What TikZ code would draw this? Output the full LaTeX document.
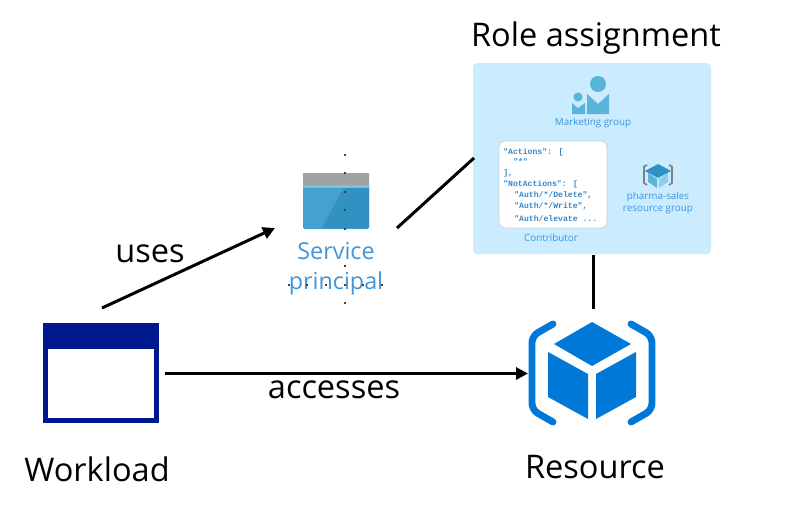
\documentclass[tikz,border=0pt]{standalone}
\usepackage{fontspec}
\setmainfont{Open Sans}
\newfontfamily\codefont{Liberation Mono}
\usetikzlibrary{arrows.meta}
\definecolor{panelblue}{HTML}{CBEBFF}
\definecolor{navy}{HTML}{00188F}
\definecolor{azure}{HTML}{0078D7}
\definecolor{softblue}{HTML}{3F96DC}
\definecolor{iconblue}{HTML}{59B4D9}
\definecolor{sptop}{HTML}{A0A1A2}
\definecolor{spbody}{HTML}{45A1D0}
\definecolor{spdark}{HTML}{3191C3}
\tikzset{
  x=0.75pt,y=-0.75pt,
  bigtext/.style={inner sep=0pt,font=\fontsize{24.4}{28}\selectfont,text=black},
  smalltext/.style={inner sep=0pt,font=\fontsize{7.4}{9}\selectfont,text=softblue,align=center},
  sptext/.style={inner sep=0pt,font=\fontsize{17.5}{22.5}\selectfont,text=softblue,align=center},
  codetext/.style={inner sep=0pt,anchor=west,font=\codefont\bfseries\fontsize{6.1}{7}\selectfont,text=softblue!90!black},
  conn/.style={draw=black,line width=2.25pt},
  arrowconn/.style={conn,-{Triangle[length=9pt,width=9pt]}},
  tick/.style={fill=black!75,minimum size=1.3pt,inner sep=0pt,draw=none},
  bracket/.style={draw=azure,line width=5.2pt,line cap=round,line join=round,rounded corners=5pt},
}
\begin{document}
\begin{tikzpicture}
\useasboundingbox (0,0) rectangle (794,514);
% workload
\node[draw=none,fill=navy,minimum width=87pt,minimum height=75pt,inner sep=0pt] (workload) at (101,373) {};
\node[fill=white,minimum width=79.5pt,minimum height=51.75pt,inner sep=0pt] (workloadpane) at (101,383.5) {};
\node[bigtext] (workloadlabel) at (97,469) {Workload};
% service principal
\fill[spbody,rounded corners=1pt] (303,173) rectangle (369,229);
\fill[spdark] (345,185) -- (369,185) -- (369,228) -- (322,228) -- cycle;
\fill[spbody!70!white] (303,185) rectangle (369,188);
\node[fill=sptop,minimum width=49.5pt,minimum height=9pt,inner sep=0pt] (sptitle) at (336,179) {};
\node[sptext] (splabel) at (336,269) {Service\\principal};
\foreach \n/\xx/\yy in {a/345/155,b/345/173,c/345/192,d/345/210,e/345/229,f/345/266,g/345/285,h/345/303,i/289/285,j/307/285,k/326/285,l/363/285,m/382/285}
  \node[tick] (tick\n) at (\xx,\yy) {};
% role assignment panel
\node[bigtext] (rolelabel) at (596,38) {Role assignment};
\node[fill=panelblue,rounded corners=3pt,minimum width=178.5pt,minimum height=143.25pt,inner sep=0pt] (panel) at (592,158.5) {};
% marketing group icon
\fill[iconblue] (598,84) circle[radius=8];
\fill[iconblue] (587,94) -- (598,104) -- (609,94) -- (609,114) -- (587,114) -- cycle;
\fill[iconblue] (578,97) circle[radius=4.5];
\fill[iconblue] (572,103) -- (578,108) -- (585,103) -- (585,114) -- (572,114) -- cycle;
\node[smalltext] (marketing) at (593,123) {Marketing group};
% contributor box
\node[fill=white,draw=black!20,line width=0.6pt,rounded corners=4pt,minimum width=81pt,minimum height=65.25pt,inner sep=0pt] (rolebox) at (553,184.5) {};
\node[codetext] (c1) at (503,152) {"Actions": [};
\node[codetext] (c2) at (513,162) {"*"};
\node[codetext] (c3) at (503,173) {],};
\node[codetext] (c4) at (503,184) {"NotActions": [};
\node[codetext] (c5) at (514,195) {"Auth/*/Delete",};
\node[codetext] (c6) at (514,206) {"Auth/*/Write",};
\node[codetext] (c7) at (514,219) {"Auth/elevate ...};
\node[smalltext] (contributor) at (551,238) {Contributor};
% small resource icon
\fill[spdark] (658,164) -- (671,171) -- (658,178) -- (645,171) -- cycle;
\fill[iconblue] (648,173) -- (657,179) -- (657,188) -- (648,182) -- cycle;
\fill[iconblue!55!panelblue] (659,179) -- (668,173) -- (668,182) -- (659,188) -- cycle;
\draw[black!50,line width=1.2pt,line join=round] (647,165) -- (644,166.5) -- (644,183) -- (647,185);
\draw[black!50,line width=1.2pt,line join=round] (669,165) -- (672,166.5) -- (672,183) -- (669,185);
\node[smalltext] (pharma) at (658,203) {pharma-sales\\resource group};
% resource icon
\fill[azure] (592,322) -- (631,344) -- (592,366) -- (554,344) -- cycle;
\fill[azure] (548,352) -- (588,374) -- (588,419) -- (548,397) -- cycle;
\fill[azure] (596,374) -- (636,352) -- (636,397) -- (596,419) -- cycle;
\draw[bracket] (553,324) -- (532,336) -- (532,410) -- (553,422);
\draw[bracket] (631,324) -- (652,336) -- (652,410) -- (631,422);
\node[inner sep=0pt,minimum width=93pt,minimum height=78pt] (resource) at (592,373) {};
\node[bigtext] (resourcelabel) at (595,467) {Resource};
% connector ends
\coordinate (usesstart) at (102,308);
\coordinate (usesend) at (275,228);
\coordinate (rolestart) at (397,228);
\coordinate (roleend) at (474,158);
\coordinate (panelbottom) at (593.5,255);
\coordinate (resourcetop) at (593.5,309);
\coordinate (accstart) at (165,373.5);
\coordinate (accend) at (528,373.5);
% connectors
\draw[arrowconn] (usesstart) -- (usesend);
\draw[conn] (rolestart) -- (roleend);
\draw[conn] (panelbottom) -- (resourcetop);
\draw[arrowconn] (accstart) -- (accend);
\node[bigtext] (useslabel) at (150,254) {uses};
\node[bigtext] (accesseslabel) at (334,390) {accesses};
\end{tikzpicture}
\end{document}
